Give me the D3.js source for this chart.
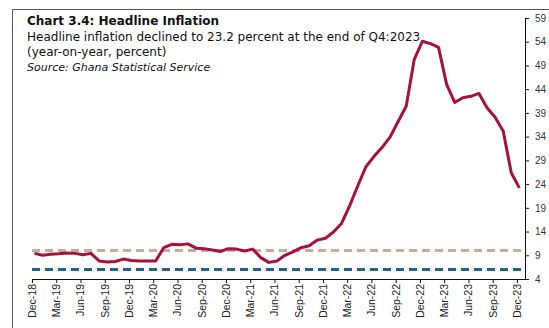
<!DOCTYPE html>
<html>
<head>
<meta charset="utf-8">
<script src="https://cdn.jsdelivr.net/npm/d3@7"></script>
<style>
  body { margin: 0; background: #fff; }
  svg { display: block; }
</style>
</head>
<body>
<div id="chart"></div>
<script>
// Monthly headline inflation, Dec-18 .. Dec-23
const months = [
  "2018-12",
  "2019-01","2019-02","2019-03","2019-04","2019-05","2019-06","2019-07","2019-08","2019-09","2019-10","2019-11","2019-12",
  "2020-01","2020-02","2020-03","2020-04","2020-05","2020-06","2020-07","2020-08","2020-09","2020-10","2020-11","2020-12",
  "2021-01","2021-02","2021-03","2021-04","2021-05","2021-06","2021-07","2021-08","2021-09","2021-10","2021-11","2021-12",
  "2022-01","2022-02","2022-03","2022-04","2022-05","2022-06","2022-07","2022-08","2022-09","2022-10","2022-11","2022-12",
  "2023-01","2023-02","2023-03","2023-04","2023-05","2023-06","2023-07","2023-08","2023-09","2023-10","2023-11","2023-12"
];
const inflation = [
  9.4,
  9.0, 9.2, 9.3, 9.5, 9.4, 9.1, 9.4, 7.8, 7.6, 7.7, 8.2, 7.9,
  7.8, 7.8, 7.8, 10.6, 11.3, 11.2, 11.4, 10.5, 10.4, 10.1, 9.8, 10.4,
  10.3, 9.9, 10.3, 8.5, 7.5, 7.8, 9.0, 9.7, 10.6, 11.0, 12.2, 12.6,
  13.9, 15.7, 19.4, 23.6, 27.6, 29.8, 31.7, 33.9, 37.2, 40.4, 50.3, 54.1,
  53.6, 52.8, 45.0, 41.2, 42.2, 42.5, 43.1, 40.1, 38.1, 35.2, 26.4, 23.2
];
const targetUpper = 10;
const targetLower = 6;
const yTicks = [4, 9, 14, 19, 24, 29, 34, 39, 44, 49, 54, 59];
const xTickLabels = ["Dec-18","Mar-19","Jun-19","Sep-19","Dec-19","Mar-20","Jun-20","Sep-20","Dec-20","Mar-21",
  "Jun-21","Sep-21","Dec-21","Mar-22","Jun-22","Sep-22","Dec-22","Mar-23","Jun-23","Sep-23","Dec-23"];

const width = 549, height = 328;
const margin = { top: 18, right: 24, bottom: 49, left: 32 };

const svg = d3.select("#chart").append("svg")
  .attr("width", width)
  .attr("height", height);

// frame around the chart
svg.append("path")
  .attr("d", `M12.5,${height} V9.5 H${width}`)
  .attr("fill", "none")
  .attr("stroke", "#555")
  .attr("stroke-width", 1);

// titles
const titles = svg.append("g").attr("font-family", "'DejaVu Sans', sans-serif").attr("fill", "#111");
titles.append("text").attr("x", 27).attr("y", 25).attr("font-size", 12).attr("font-weight", "bold")
  .text("Chart 3.4: Headline Inflation");
titles.append("text").attr("x", 27).attr("y", 41).attr("font-size", 12)
  .text("Headline inflation declined to 23.2 percent at the end of Q4:2023");
titles.append("text").attr("x", 27).attr("y", 56).attr("font-size", 12)
  .text("(year-on-year, percent)");
titles.append("text").attr("x", 27).attr("y", 71).attr("font-size", 11).attr("font-style", "italic")
  .text("Source: Ghana Statistical Service");

// scales: month index, one extra month after Dec-23
const x = d3.scaleLinear()
  .domain([0, months.length])
  .range([margin.left, width - margin.right]);
const y = d3.scaleLinear()
  .domain([4, 59])
  .range([height - margin.bottom, margin.top]);

// target band lines
svg.append("line")
  .attr("x1", x(0)).attr("x2", x(months.length - 0.5))
  .attr("y1", y(targetUpper)).attr("y2", y(targetUpper))
  .attr("stroke", "#c4ae94").attr("stroke-width", 3).attr("stroke-dasharray", "8,5");
svg.append("line")
  .attr("x1", x(0)).attr("x2", x(months.length - 0.5))
  .attr("y1", y(targetLower)).attr("y2", y(targetLower))
  .attr("stroke", "#21628f").attr("stroke-width", 3).attr("stroke-dasharray", "8,5");

// axes
const xAxis = svg.append("g")
  .attr("transform", `translate(0,${height - margin.bottom})`)
  .call(d3.axisBottom(x)
    .tickValues(d3.range(0, months.length, 3))
    .tickFormat((d, i) => xTickLabels[i])
    .tickSize(4)
    .tickSizeOuter(0));
xAxis.selectAll("text")
  .attr("font-family", "'Liberation Sans Narrow', 'Liberation Sans', sans-serif")
  .attr("font-size", 10.5)
  .attr("fill", "#222")
  .attr("transform", "rotate(-90)")
  .attr("text-anchor", "end")
  .attr("x", -5)
  .attr("y", 0)
  .attr("dy", "0.32em");

const yAxis = svg.append("g")
  .attr("transform", `translate(${width - margin.right},0)`)
  .call(d3.axisRight(y).tickValues(yTicks).tickSize(4).tickSizeOuter(0).tickPadding(6));
yAxis.selectAll("text")
  .attr("font-family", "'Liberation Sans Narrow', 'Liberation Sans', sans-serif")
  .attr("font-size", 10)
  .attr("fill", "#333");
svg.selectAll(".domain, .tick line").attr("stroke", "#111");

// inflation line
const line = d3.line()
  .x((d, i) => x(i + 0.3))
  .y(d => y(d));
svg.append("path")
  .datum(inflation)
  .attr("fill", "none")
  .attr("stroke", "#a8103e")
  .attr("stroke-width", 3)
  .attr("stroke-linejoin", "round")
  .attr("d", line);
</script>
</body>
</html>
